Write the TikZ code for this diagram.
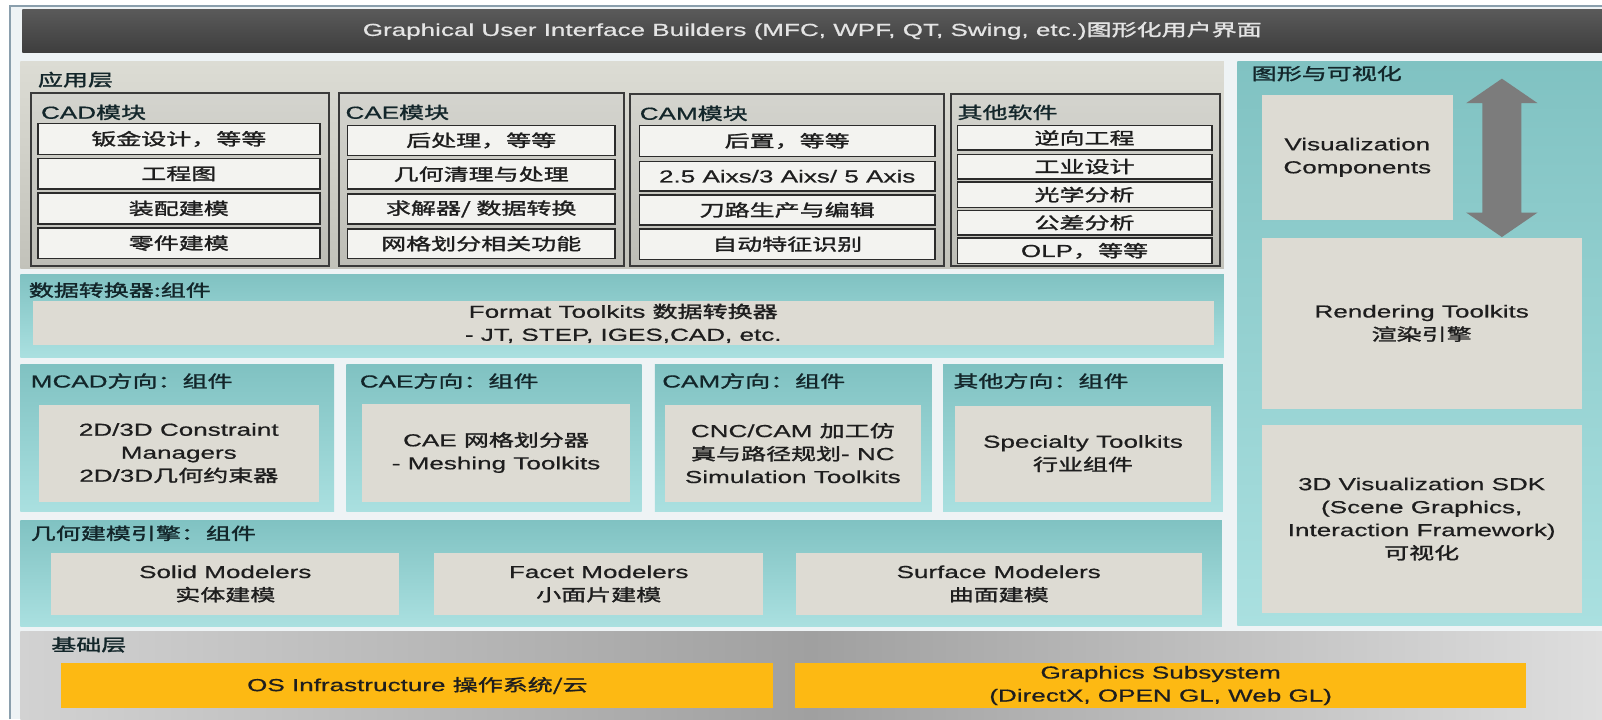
\documentclass[tikz,border=0pt]{standalone}
\usepackage{fontspec}
\setmainfont{Liberation Sans}[FakeStretch=1.5,FakeBold=0.6]
\newfontfamily\cjkf{Noto Sans CJK SC}[FakeStretch=1.5,Scale=0.96,FakeBold=1.6]
\newcommand\zhz[1]{{\cjkf #1}}
\definecolor{bgc}{HTML}{EEF3F5}
\definecolor{framec}{HTML}{8A9FAD}
\definecolor{darkT}{HTML}{5A5A5A}
\definecolor{darkB}{HTML}{3E3E3E}
\definecolor{titlec}{HTML}{E4E4E4}
\definecolor{appT}{HTML}{DCDCD4}
\definecolor{appB}{HTML}{C2C2BA}
\definecolor{modT}{HTML}{D4D4CE}
\definecolor{modB}{HTML}{BDBDB6}
\definecolor{modD}{HTML}{3A3A3A}
\definecolor{itemc}{HTML}{F3F3F0}
\definecolor{itemd}{HTML}{2B2B2B}
\definecolor{tealT}{HTML}{80C2C2}
\definecolor{tealB}{HTML}{AAE0E0}
\definecolor{lightc}{HTML}{DDDBD3}
\definecolor{yelc}{HTML}{FDB913}
\definecolor{txtc}{HTML}{1E1E1E}
\definecolor{lblc}{HTML}{13262A}
\definecolor{arrc}{HTML}{7C7C7C}
\definecolor{baseL}{HTML}{D2D2D2}
\definecolor{baseM}{HTML}{A0A0A0}
\definecolor{baseR}{HTML}{DEDEDE}
\newcommand\rb[7]{\node[#1,minimum width={#5-#3},minimum height={#6-#4}] (#2) at (#3,#4) {#7};}
\tikzset{
  box/.style={anchor=north west, inner sep=0pt, outer sep=0pt, align=center, text=txtc},
  darkbar/.style={box, top color=darkT, bottom color=darkB, text=titlec},
  apppanel/.style={box, top color=appT, bottom color=appB},
  tealpanel/.style={box, top color=tealT, bottom color=tealB},
  lightbox/.style={box, fill=lightc},
  itembox/.style={box, fill=itemc, draw=itemd, line width=1.5pt},
  modbox/.style={box, top color=modT, bottom color=modB, draw=modD, line width=1.8pt},
  basepanel/.style={box, left color=baseL, right color=baseR, middle color=baseM},
  ybox/.style={box, fill=yelc},
  lbl/.style={anchor=west, inner sep=0pt, text=lblc},
}
\begin{document}
\begin{tikzpicture}[x=1pt,y=-1pt,font=\fontsize{17}{22.5}\selectfont]
\useasboundingbox (0,0) rectangle (1568,704);
\fill[white] (0,0) rectangle (1568,704);
\fill[bgc] (10,6) rectangle (1568,704);
\draw[framec, line width=2pt] (10,704) -- (10,6) -- (1568,6);
% title
\rb{darkbar}{title}{22}{9}{1568}{51}{Graphical User Interface Builders (MFC, WPF, QT, Swing, etc.)\zhz{图形化用户界面}}
% application layer
\rb{apppanel}{app}{20}{60}{1198}{263}{}
\node[lbl] (lapp) at (37,78) {\zhz{应用层}};
\rb{modbox}{cad}{30}{91}{322}{260}{}
\rb{modbox}{cae}{332}{91}{611}{260}{}
\rb{modbox}{cam}{617}{92}{924}{260}{}
\rb{modbox}{oth}{931}{92}{1194}{260}{}
\node[lbl] (lcad) at (40,110) {CAD\zhz{模块}};
\node[lbl] (lcae) at (338,110) {CAE\zhz{模块}};
\node[lbl] (lcam) at (626,111) {CAM\zhz{模块}};
\node[lbl] (loth) at (937,110) {\zhz{其他软件}};
\rb{itembox}{cad1}{37}{121}{313}{151}{\zhz{钣金设计，等等}}
\rb{itembox}{cad2}{37}{155}{313}{185}{\zhz{工程图}}
\rb{itembox}{cad3}{37}{189}{313}{219}{\zhz{装配建模}}
\rb{itembox}{cad4}{37}{223}{313}{253}{\zhz{零件建模}}
\rb{itembox}{cae1}{340}{123}{602}{152}{\zhz{后处理，等等}}
\rb{itembox}{cae2}{340}{156}{602}{185}{\zhz{几何清理与处理}}
\rb{itembox}{cae3}{340}{190}{602}{219}{\zhz{求解器/ 数据转换}}
\rb{itembox}{cae4}{340}{224}{602}{253}{\zhz{网格划分相关功能}}
\rb{itembox}{cam1}{626}{123}{915}{153}{\zhz{后置，等等}}
\rb{itembox}{cam2}{626}{158}{915}{187}{2.5 Aixs/3 Aixs/ 5 Axis}
\rb{itembox}{cam3}{626}{191}{915}{220}{\zhz{刀路生产与编辑}}
\rb{itembox}{cam4}{626}{224}{915}{254}{\zhz{自动特征识别}}
\rb{itembox}{oth1}{937}{123}{1186}{147}{\zhz{逆向工程}}
\rb{itembox}{oth2}{937}{151}{1186}{175}{\zhz{工业设计}}
\rb{itembox}{oth3}{937}{178}{1186}{203}{\zhz{光学分析}}
\rb{itembox}{oth4}{937}{206}{1186}{230}{\zhz{公差分析}}
\rb{itembox}{oth5}{937}{233}{1186}{258}{OLP\zhz{，等等}}
% data converters
\rb{tealpanel}{data}{20}{269}{1198}{350}{}
\node[lbl] (ldata) at (28,284) {\zhz{数据转换器:组件}};
\rb{lightbox}{fmt}{32}{295}{1188}{338}{Format Toolkits \zhz{数据转换器}\\- JT, STEP, IGES,CAD, etc.}
% row of direction panels
\rb{tealpanel}{mcad}{20}{357}{327}{501}{}
\rb{tealpanel}{caed}{339}{357}{628}{501}{}
\rb{tealpanel}{camd}{641}{357}{912}{501}{}
\rb{tealpanel}{othd}{923}{357}{1197}{501}{}
\node[lbl] (lmcad) at (30,373) {MCAD\zhz{方向：组件}};
\node[lbl] (lcaed) at (352,373) {CAE\zhz{方向：组件}};
\node[lbl] (lcamd) at (648,373) {CAM\zhz{方向：组件}};
\node[lbl] (lothd) at (933,373) {\zhz{其他方向：组件}};
\rb{lightbox}{mcadb}{38}{396}{312}{491}{2D/3D Constraint\\Managers\\2D/3D\zhz{几何约束器}}
\rb{lightbox}{caedb}{354}{395}{617}{491}{CAE \zhz{网格划分器}\\- Meshing Toolkits}
\rb{lightbox}{camdb}{651}{396}{901}{491}{CNC/CAM \zhz{加工仿}\\\zhz{真与路径规划}- NC\\Simulation Toolkits}
\rb{lightbox}{othdb}{935}{397}{1185}{491}{Specialty Toolkits\\\zhz{行业组件}}
% geometry kernel
\rb{tealpanel}{geo}{20}{509}{1196}{613}{}
\node[lbl] (lgeo) at (30,522) {\zhz{几何建模引擎：组件}};
\rb{lightbox}{solid}{50}{541}{391}{602}{Solid Modelers\\\zhz{实体建模}}
\rb{lightbox}{facet}{425}{541}{747}{602}{Facet Modelers\\\zhz{小面片建模}}
\rb{lightbox}{surf}{779}{541}{1176}{602}{Surface Modelers\\\zhz{曲面建模}}
% graphics and visualization
\rb{tealpanel}{vis}{1211}{60}{1568}{612}{}
\node[lbl] (lvis) at (1225,72) {\zhz{图形与可视化}};
\rb{lightbox}{viscomp}{1235}{93}{1422}{215}{Visualization\\Components}
\rb{lightbox}{render}{1235}{233}{1548}{400}{Rendering Toolkits\\\zhz{渲染引擎}}
\rb{lightbox}{sdk}{1235}{416}{1548}{600}{3D Visualization SDK\\(Scene Graphics,\\Interaction Framework)\\\zhz{可视化}}
\fill[arrc] (1470,77) -- (1505,101) -- (1489,101) -- (1489,208) -- (1505,208) -- (1470,232)
  -- (1435,208) -- (1451,208) -- (1451,101) -- (1435,101) -- cycle;
% base layer
\rb{basepanel}{base}{20}{618}{1568}{704}{}
\node[lbl] (lbase) at (50,631) {\zhz{基础层}};
\rb{ybox}{os}{60}{649}{757}{693}{OS Infrastructure \zhz{操作系统/云}}
\rb{ybox}{gfx}{778}{649}{1494}{693}{Graphics Subsystem\\(DirectX, OPEN GL, Web GL)}
\end{tikzpicture}
\end{document}
